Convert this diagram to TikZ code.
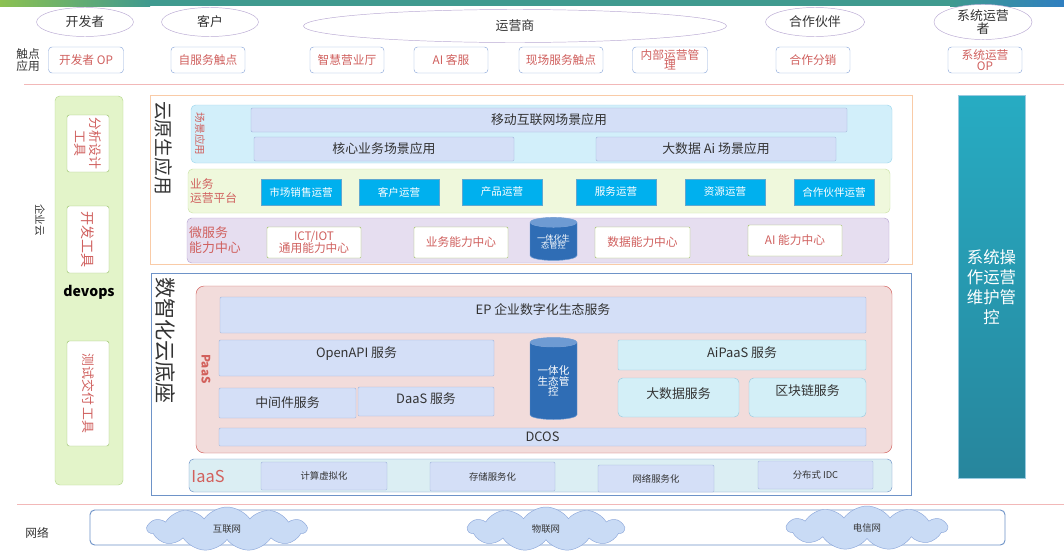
\documentclass[tikz,border=0pt]{standalone}
\usepackage{fontspec}
\setmainfont{Noto Sans CJK SC}
\usepackage{xcolor}
\usetikzlibrary{shapes.geometric,shapes.symbols}
\definecolor{barleft}{HTML}{8CC152}
\definecolor{barmid}{HTML}{3F9A8F}
\definecolor{barright}{HTML}{2F7FC1}
\definecolor{rolelilac}{HTML}{B9A9D3}
\definecolor{inkgray}{HTML}{333333}
\definecolor{touchblue}{HTML}{8EAADB}
\definecolor{touchred}{HTML}{D0605E}
\definecolor{rulered}{HTML}{F2B8B8}
\definecolor{devfill}{HTML}{E3F4C9}
\definecolor{devborder}{HTML}{B5D88E}
\definecolor{toolgreen}{HTML}{9BC46A}
\definecolor{apporange}{HTML}{F9CBA7}
\definecolor{scenefill}{HTML}{D2EFFA}
\definecolor{sceneborder}{HTML}{9DD7EE}
\definecolor{lavfill}{HTML}{D4DFF7}
\definecolor{lavborder}{HTML}{9FB3DA}
\definecolor{opsfill}{HTML}{EFF8DC}
\definecolor{opsborder}{HTML}{CBE3A6}
\definecolor{opsblue}{HTML}{00B0EE}
\definecolor{opsline}{HTML}{5FA7D0}
\definecolor{microfill}{HTML}{E6DEF0}
\definecolor{microborder}{HTML}{B8A6D2}
\definecolor{capgreen}{HTML}{9BBB59}
\definecolor{cylblue}{HTML}{2F6DB5}
\definecolor{cylend}{HTML}{6E9BD3}
\definecolor{baseblue}{HTML}{6E93C8}
\definecolor{paasfill}{HTML}{F2DCDB}
\definecolor{paasborder}{HTML}{D2605C}
\definecolor{aifill}{HTML}{D3EFF7}
\definecolor{aiborder}{HTML}{9ACBE0}
\definecolor{iaasfill}{HTML}{DBEEF3}
\definecolor{systeal}{HTML}{2E9DB8}
\definecolor{cloudfill}{HTML}{C9DBF5}
\definecolor{cloudborder}{HTML}{8EA9DB}

\begin{document}
\begin{tikzpicture}[
  x=0.03cm, y=-0.03cm,
  wh/.style 2 args={minimum width=#1*0.03cm, minimum height=#2*0.03cm},
  fsz/.style={font=\fontsize{#1}{\numexpr #1*6/5\relax}\selectfont},
  raise/.style={text depth=#1*0.03cm},
  role/.style={ellipse, draw=rolelilac, fill=white, inner sep=0pt, align=center, text=inkgray, fsz=11},
  touch/.style={rectangle, rounded corners=3pt, draw=touchblue, fill=white, inner sep=0pt, align=center, text=touchred, fsz=10},
  tool/.style={rectangle, rounded corners=2pt, draw=toolgreen, fill=white, inner sep=0pt, align=center, text=touchred, rotate=-90, fsz=11},
  layer/.style={rectangle, rounded corners=4pt, inner sep=0pt},
  lav/.style={rectangle, rounded corners=1pt, draw=lavborder, fill=lavfill, inner sep=0pt, align=center, text=inkgray, fsz=11},
  opsbox/.style={rectangle, draw=opsline, fill=opsblue, inner sep=0pt, text=white, fsz=9},
  capbox/.style={rectangle, rounded corners=1pt, draw=capgreen, fill=white, inner sep=0pt, align=center, text=touchred, fsz=10},
  cyl/.style={cylinder, shape border rotate=90, aspect=0.3, draw=cylend, cylinder uses custom fill, cylinder body fill=cylblue, cylinder end fill=cylend, inner sep=0pt, align=center, text=white},
  aibox/.style={lav, fill=aifill, draw=aiborder},
  vlabel/.style={rotate=-90, anchor=west, inner sep=0pt, text=inkgray},
  sidelabel/.style={anchor=west, inner sep=0pt, align=left, text=touchred},
  netcloud/.style={cloud, cloud puffs=11, cloud puff arc=110, draw=cloudborder, fill=cloudfill, inner sep=0pt, text=inkgray, fsz=8},
  rule/.style={draw=rulered, line width=0.8pt}
]
\useasboundingbox (0,0) rectangle (1064,555);
\fill[white] (0,0) rectangle (1064,555);
% top colour bar
\shade[left color=barleft, right color=barmid] (0,0) rectangle (150,6);
\fill[barmid] (150,0) rectangle (950,6);
\shade[left color=barmid, right color=barright] (950,0) rectangle (1064,6);

% roles
\node[role, wh={97}{29}] (dev) at (85,22) {开发者};
\node[role, wh={97}{29}] (cust) at (210,22) {客户};
\node[role, wh={423}{33}] (oper) at (515,26) {运营商};
\node[role, wh={99}{29}] (partner) at (815,22) {合作伙伴};
\node[role, wh={98}{29}] (sysop) at (983,22) {系统运营\\[-2pt]者};

% touch points
\node[text=inkgray, align=center, fsz=10, inner sep=0pt] (touchlbl) at (28,60) {触点\\[-2pt]应用};
\node[touch, wh={75}{26}] (t1) at (86,60) {开发者 OP};
\node[touch, wh={74}{26}] (t2) at (208,60) {自服务触点};
\node[touch, wh={74}{26}] (t3) at (347,60) {智慧营业厅};
\node[touch, wh={74}{26}] (t4) at (451,60) {AI 客服};
\node[touch, wh={84}{26}] (t5) at (561,60) {现场服务触点};
\node[touch, wh={75}{26}] (t6) at (670,60) {内部运营管\\[-3pt]理};
\node[touch, wh={74}{26}] (t7) at (813,60) {合作分销};
\node[touch, wh={74}{26}] (t8) at (985,60) {系统运营\\[-3pt]OP};
\draw[rule] (24,84) -- (1064,84);

% enterprise cloud / devops
\node[rotate=-90, text=inkgray, fsz=9, inner sep=0pt] (entcloud) at (40,220) {企业云};
\node[layer, draw=devborder, fill=devfill, wh={68}{389}] (devcol) at (89,290.5) {};
\node[tool, wh={57}{42}] (tool1) at (88,143.5) {分析设计\\工具};
\node[tool, wh={67}{42}, fsz=12] (tool2) at (88,239.5) {开发工具};
\node[inner sep=0pt, font=\fontsize{12}{14}\selectfont\bfseries] (devops) at (89,292) {devops};
\node[tool, wh={105}{42}] (tool3) at (88,393.5) {测试交付 工具};

% cloud native applications
\node[rectangle, draw=apporange, inner sep=0pt, wh={762}{169}] (app) at (531,179.5) {};
\node[vlabel, fsz=16] (applbl) at (164,101) {云原生应用};
\node[layer, draw=sceneborder, fill=scenefill, wh={701}{58}] (scene) at (541.5,134) {};
\node[rotate=-90, text=touchred, fsz=9, inner sep=0pt] (scenelbl) at (200,134) {场景应用};
\node[lav, wh={596}{24}] (mobile) at (549,120) {移动互联网场景应用};
\node[lav, wh={260}{24}] (core) at (384,149) {核心业务场景应用};
\node[lav, wh={240}{24}] (bigai) at (716,149) {大数据 Ai 场景应用};

\node[layer, draw=opsborder, fill=opsfill, wh={702}{44}] (opsplat) at (539,191) {};
\node[sidelabel, fsz=10] (opslbl) at (190,191) {业务\\运营平台};
\node[opsbox, wh={80}{26}] (o1) at (301,192) {市场销售运营};
\node[opsbox, wh={80}{26}] (o2) at (399,192) {客户运营};
\node[opsbox, wh={80}{26}] (o3) at (502,192) {产品运营};
\node[opsbox, wh={80}{26}] (o4) at (616,192) {服务运营};
\node[opsbox, wh={80}{26}] (o5) at (725,192) {资源运营};
\node[opsbox, wh={80}{26}] (o6) at (834,192) {合作伙伴运营};

\node[layer, draw=microborder, fill=microfill, wh={702}{45}] (micro) at (538,240.5) {};
\node[sidelabel, fsz=11] (microlbl) at (189,240.5) {微服务\\能力中心};
\node[capbox, wh={94}{31}] (ict) at (314,242.5) {ICT/IOT\\[-2pt]通用能力中心};
\node[capbox, wh={94}{31}] (bizcap) at (461,242.5) {业务能力中心};
\node[cyl, wh={47}{43}, fsz=7] (eco1) at (553.5,241.5) {一体化生\\[-2pt]态管控};
\node[capbox, wh={95}{31}] (datacap) at (642.5,242.5) {数据能力中心};
\node[capbox, wh={94}{31}] (aicap) at (795,240.5) {AI 能力中心};

% digital cloud base
\node[rectangle, draw=baseblue, inner sep=0pt, wh={760}{222}] (base) at (531,384) {};
\node[vlabel, fsz=18] (baselbl) at (166,277) {数智化云底座};
\node[layer, rounded corners=7pt, draw=paasborder, fill=paasfill, wh={696}{167}] (paas) at (544,369.5) {};
\node[rotate=-90, text=paasborder, inner sep=0pt, font=\fontsize{10}{12}\selectfont\bfseries] (paaslbl) at (206,369) {PaaS};
\node[lav, raise=12, wh={646}{36}] (ep) at (543,315) {EP 企业数字化生态服务};
\node[lav, raise=12, wh={275}{36}] (openapi) at (356.5,358) {OpenAPI 服务};
\node[lav, wh={137}{30}] (mid) at (287.5,403) {中间件服务};
\node[lav, raise=7, wh={136}{29}] (daas) at (426,401.5) {DaaS 服务};
\node[cyl, wh={47}{82}, fsz=9] (eco2) at (553.5,381) {一体化\\[-2pt]生态管\\[-2pt]控};
\node[aibox, raise=6, wh={248}{30}] (aipaas) at (742,355) {AiPaaS 服务};
\node[aibox, raise=9, rounded corners=4pt, wh={121}{39}] (bigdata) at (678.5,397.5) {大数据服务};
\node[aibox, raise=15, rounded corners=4pt, wh={117}{39}] (chain) at (807.5,397.5) {区块链服务};
\node[lav, wh={647}{18}] (dcos) at (542.5,437) {DCOS};

\node[layer, draw=baseblue, fill=iaasfill, wh={703}{33}] (iaas) at (540.5,475.5) {};
\node[text=paasborder, inner sep=0pt, fsz=14] (iaaslbl) at (208,476) {IaaS};
\node[lav, fsz=8, wh={126}{28}] (compute) at (324,476) {计算虚拟化};
\node[lav, fsz=8, wh={125}{29}] (storage) at (492.5,476.5) {存储服务化};
\node[lav, fsz=8, wh={116}{27}] (network) at (656,478.5) {网络服务化};
\node[lav, fsz=8, wh={115}{28}] (idc) at (815.5,475) {分布式 IDC};

% system operation
\node[rectangle, draw=aiborder, top color=systeal!85!cyan, bottom color=systeal!85!black, inner sep=0pt, wh={67}{383}] (sysops) at (991.5,286.5) {};
\node[text=white, align=center, inner sep=0pt, fsz=14] (syslbl) at (991.5,287) {系统操\\作运营\\维护管\\控};

% network
\draw[rule] (17,504) -- (1064,504);
\node[text=inkgray, inner sep=0pt, fsz=10] (netlbl) at (37,533) {网络};
\node[layer, draw=baseblue, line width=0.8pt, wh={915}{35}] (netbox) at (547.5,527.5) {};
\node[netcloud, wh={159}{25}] (inet) at (227,529) {互联网};
\node[netcloud, wh={156}{25}] (iot) at (546,529) {物联网};
\node[netcloud, wh={160}{25}] (telco) at (867,528) {电信网};
\end{tikzpicture}
\end{document}
